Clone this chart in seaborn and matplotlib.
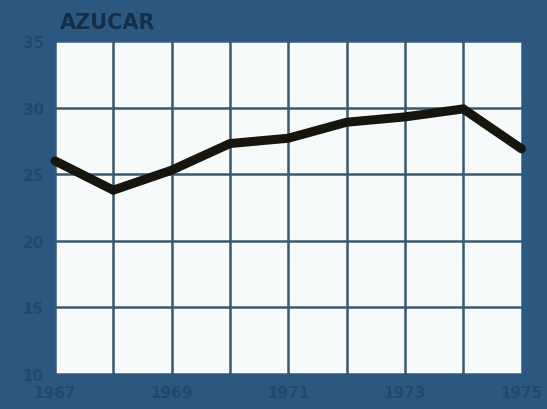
import matplotlib
matplotlib.use("Agg")
import matplotlib.pyplot as plt
import seaborn as sns
import pandas as pd

# datos
years = [1967, 1968, 1969, 1970, 1971, 1972, 1973, 1974, 1975]
azucar = [26.0, 23.8, 25.3, 27.3, 27.7, 28.9, 29.3, 29.9, 26.9]
year_ticks = [1967, 1969, 1971, 1973, 1975]
value_ticks = [10, 15, 20, 25, 30, 35]

bg = '#2c5781'
grid_col = '#3a5a6e'
label_col = '#22486e'

sns.set_style('white')
plt.rcParams['font.family'] = ['DejaVu Sans']

df = pd.DataFrame({'year': years, 'azucar': azucar})

fig = plt.figure(figsize=(5.47, 4.10), dpi=100, facecolor=bg)
ax = fig.add_axes([0.1005, 0.0854, 0.853, 0.8122])
ax.set_facecolor('#f6fafb')

sns.lineplot(data=df, x='year', y='azucar', ax=ax, color='#16160e',
             linewidth=6.5, solid_joinstyle='miter', clip_on=False, zorder=5)

ax.set_xlim(1967, 1975)
ax.set_ylim(10, 35)
ax.set_xticks(range(1967, 1976))
ax.set_xticklabels([str(y) if y in year_ticks else '' for y in range(1967, 1976)])
ax.set_yticks(value_ticks)
ax.grid(True, color=grid_col, linewidth=1.8)
ax.set_axisbelow(True)
for s in ax.spines.values():
    s.set_visible(False)
ax.tick_params(length=0, colors=label_col, labelsize=11, pad=8)
ax.set_xlabel('')
ax.set_ylabel('')
for lab in ax.get_xticklabels() + ax.get_yticklabels():
    lab.set_fontweight('bold')

fig.text(0.11, 0.945, 'AZUCAR', color='#162e48', fontsize=15,
         fontweight='bold', ha='left', va='center')

fig.savefig('out.png', dpi=100, facecolor=bg)
